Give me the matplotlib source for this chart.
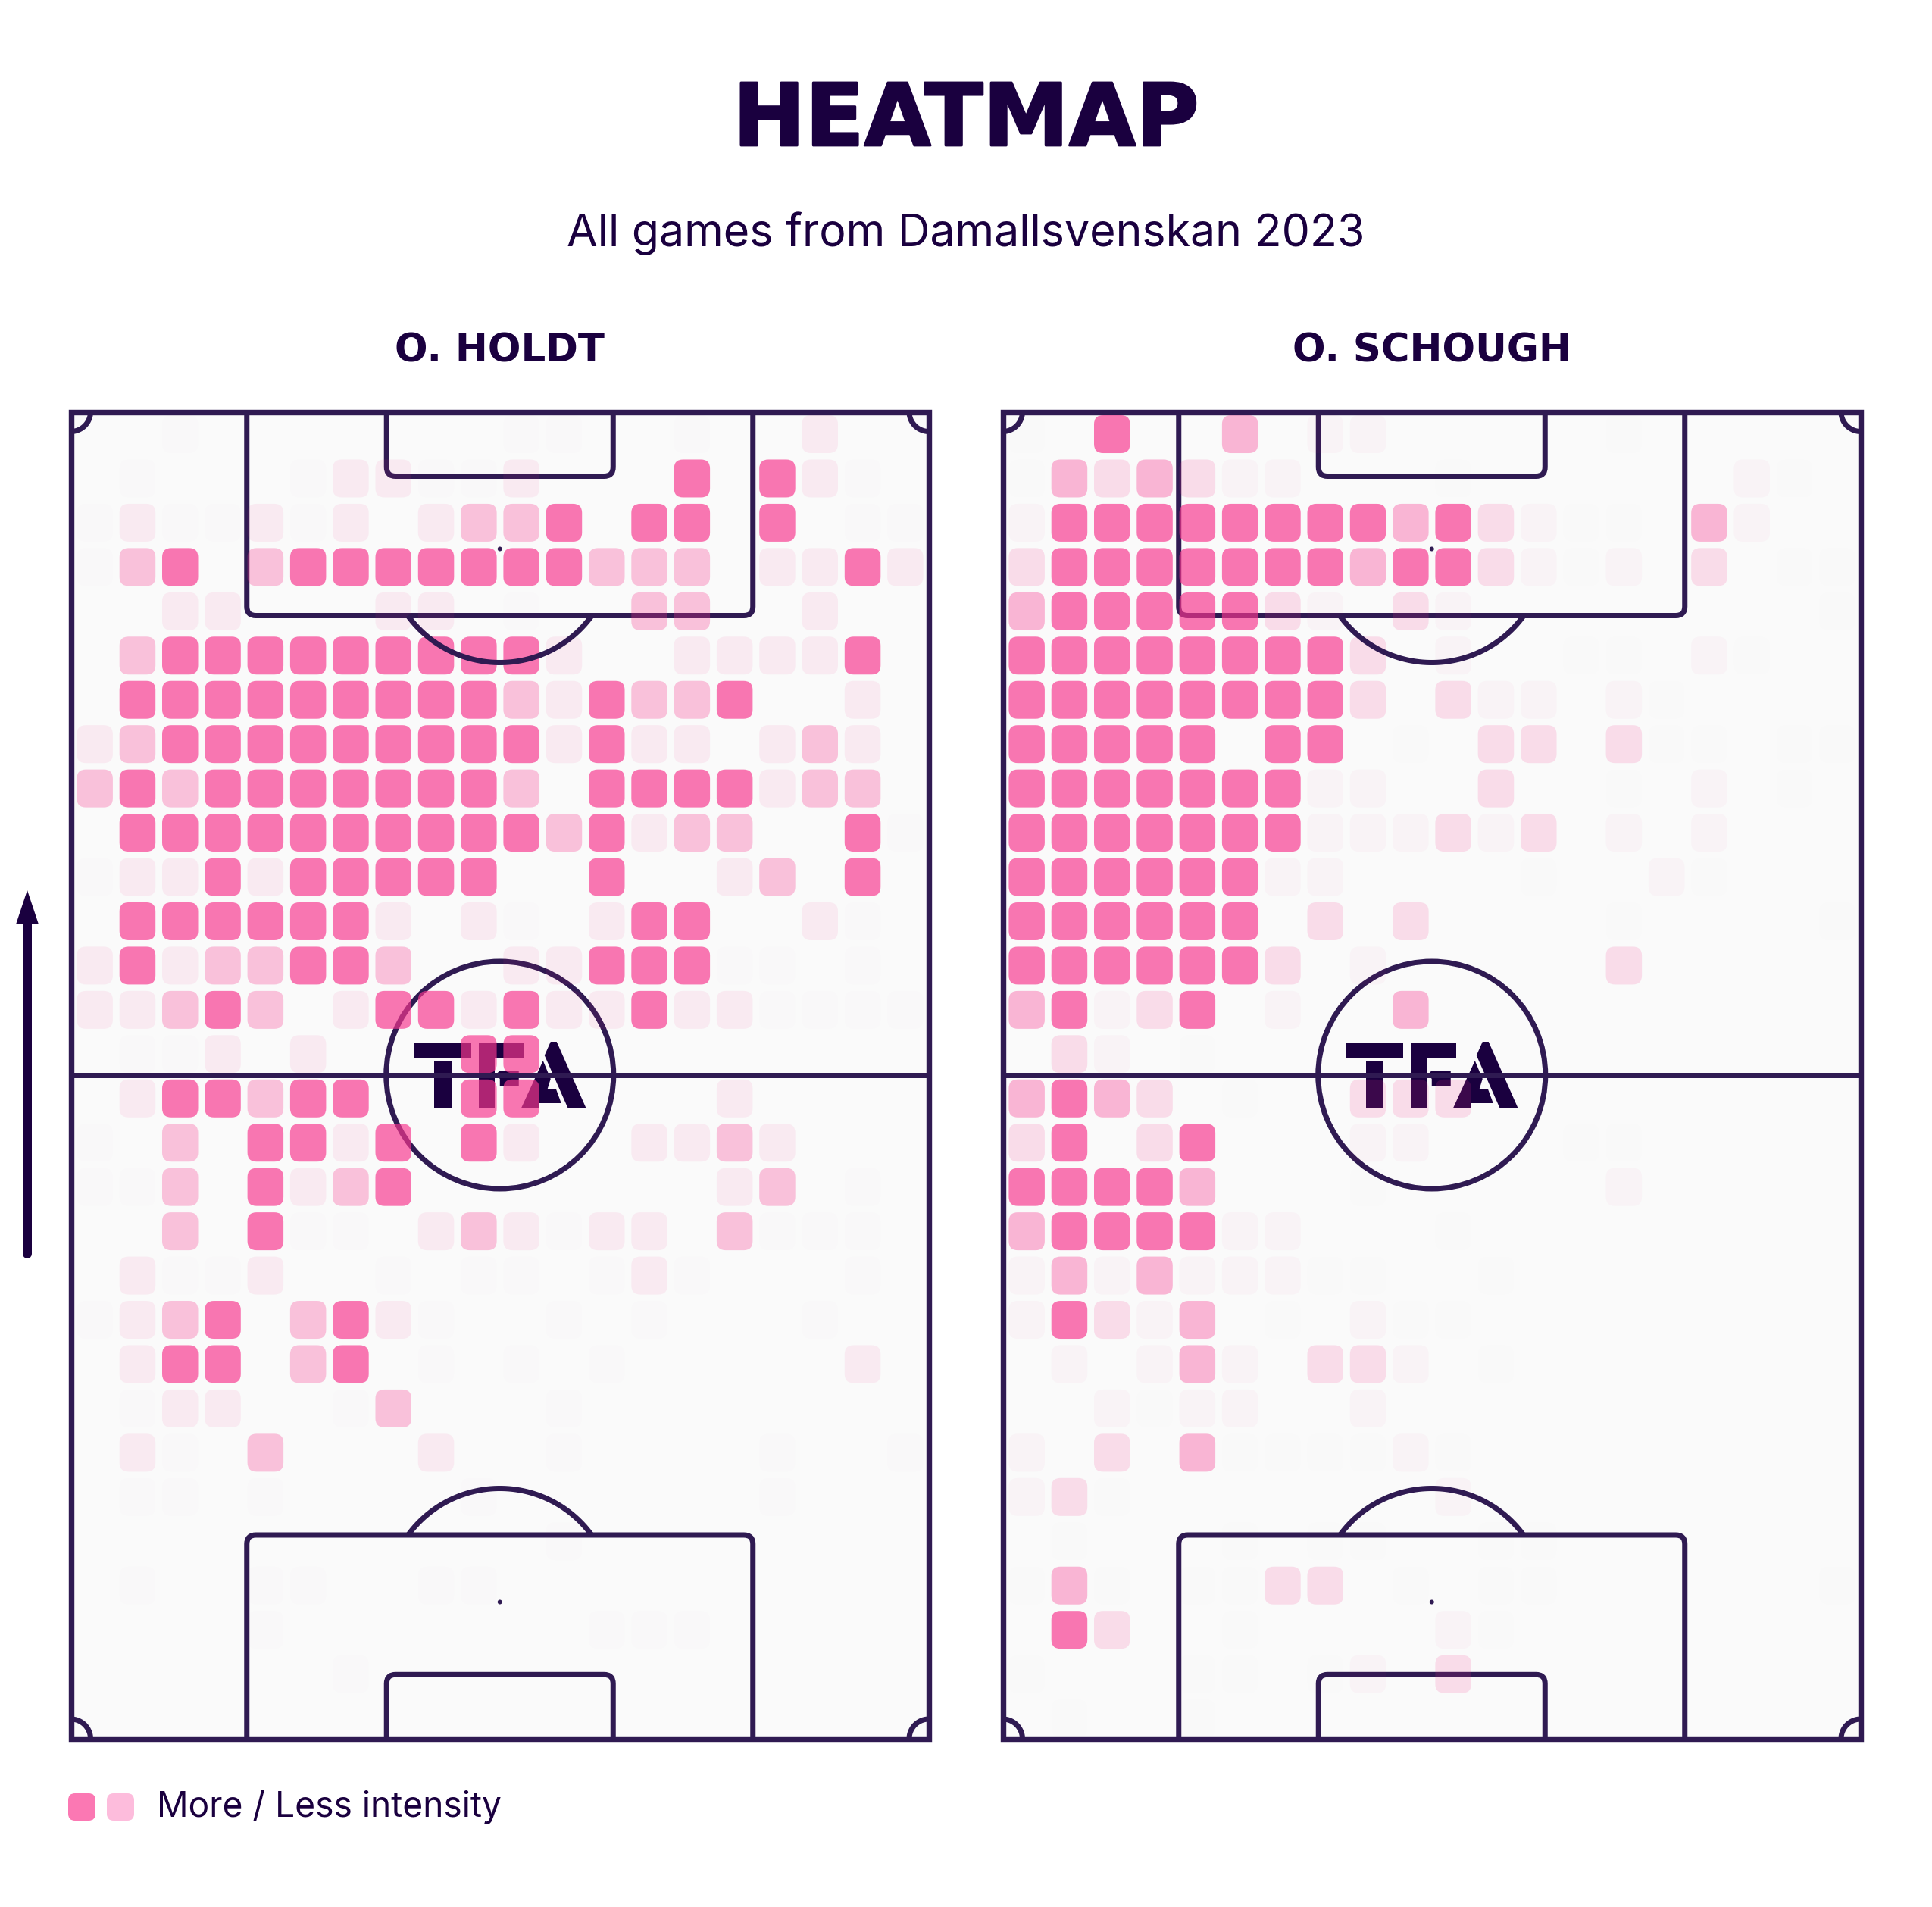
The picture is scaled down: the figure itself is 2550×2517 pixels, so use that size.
"""Side by side player heatmaps on a vertical pitch."""
import numpy as np
from matplotlib import patheffects as pe
from matplotlib import pyplot as plt
from matplotlib.patches import Circle, FancyBboxPatch, PathPatch, Polygon, Rectangle
from matplotlib.path import Path

WIDTH, HEIGHT = 2550, 2517
INK = "#1A003F"
LINE = "#2F1A52"
GRASS = "#FAFAFA"
HEAT = "#F8368E"

TITLE = "HEATMAP"
SUBTITLE = "All games from Damallsvenskan 2023"
PLAYERS = ["O. HOLDT", "O. SCHOUGH"]
LEGEND_LABEL = "More / Less intensity"
LEGEND_COLORS = ["#FB78B3", "#FDBCDC"]

# intensity codes per cell, top row first
HOLDT_ROWS = [
    "..,.......,,..,..1..",
    ".,...,11,,1...3.31,.",
    ",1,,1,1.1223.33.3.,,",
    ",23.23333333222.1131",
    "..11...11.,..22..1..",
    ".23333333331..11113.",
    ".333333333213223..1.",
    "123333333331311.121.",
    "2323333333" + "2.33331" + "22.",
    ".3333333333" + "2312" + "2..3,",
    ",113133333..3..12.3.",
    ".3333331.1,.133..1,.",
    "1312233" + "2..11333,,.,.",
    "1123" + "2.13313113" + "11,,,,",
    ".,,1.1...33.........",
    ".1332" + "33..33....1....",
    ",.2.331" + "3.31..1121...",
    ",,2.3123.......12.,.",
    "..2.3,,.121,11.2,,,.",
    ".1,,1..,.,,.,1,...,.",
    ",123.231,..,.,...,..",
    ".133.23.,.,.,.....1.",
    ".,11..,2...,........",
    ".1,.2...1..,....,..,",
    ".,,.,....,......,...",
    "...........,........",
    ".,..,,..,,..........",
    "....,.......,,,.....",
    "......,.............",
    "....................",
]
SCHOUGH_ROWS = [
    ",.4..3.11.....,.....",
    ",3232" + "11...,......1,.",
    "144444444" + "3421,,.31..",
    "24444444" + "3442" + "1,1.2.,,",
    "344444" + "21.21........,",
    "44444444" + "2.1..,,.1,..",
    "44444444" + "2.211.1,....",
    "44444.44.,.22.2,,.,,",
    "4444444" + "11..2..,.1.,.",
    "4444444" + "111212.1.1...",
    "444444" + "11....,..1,...",
    "444444.2.2....,....,",
    "4444442.1.....2.....",
    "34124.1..3..........",
    ".21.,...............",
    "3432.,..222.........",
    "24.24...11...,,.....",
    "44443...,.....1.....",
    "3444411...,.........",
    "1313111,,..,........",
    "14213.,.1,,.........",
    ".1.131.221.,........",
    "..1,11..1...........",
    "1.2.3,,,,1,.........",
    "12,.......1.........",
    ".,...,.,,..,,.......",
    ",3,.,,22.,.,,......,",
    ".42..,....1,........",
    ",...,,.,1.2.........",
    ".,..,...............",
]
# opacity of the heat colour for each code
HOLDT_LEVELS = {",": 0.006, "1": 0.08, "2": 0.29, "3": 0.67}
SCHOUGH_LEVELS = {",": 0.005, "1": 0.036, "2": 0.153, "3": 0.35, "4": 0.67}

# pixel geometry of one pitch
PITCH_W, PITCH_H = 1132.5, 1751.5
PITCH_TOP = 543.5
PITCH_LEFT = [93.5, 1323.5]
COL_STEP, ROW_STEP = 56.3, 58.45
CELL_W, CELL_H = 47.5, 50.0
LINE_PX = 7.0
# logo outlines in pixels around the centre spot
LOGO = [
    [(-114, -43), (-38, -43), (-38, -22), (-114, -22)],
    [(-87, -18), (-64, -18), (-64, 44), (-87, 44)],
    [(-28, -43), (32, -43), (32, -22), (-7, -22), (-7, -5), (-7, 44), (-28, 44)],
    [(0, -6), (-5, -1), (0, 5), (0, 14), (25, 14), (25, -6)],
    [(67, -44), (75, -44), (114, 44), (90, 44), (59, -26)],
    [(57, -19), (67, 5), (63, 18), (74, 18), (81, 37), (52, 37), (51, 44), (28, 44)],
]


def px(value):
    """Convert pixels to points at dpi 100."""
    return value * 0.72


def boxed_path(x0, x1, edge, tip, radius=12):
    """Open path of a goal area with its two far corners rounded."""
    sign = 1 if tip > edge else -1
    verts = [
        (x0, edge), (x0, tip - sign * radius), (x0, tip), (x0 + radius, tip),
        (x1 - radius, tip), (x1, tip), (x1, tip - sign * radius), (x1, edge),
    ]
    codes = [
        Path.MOVETO, Path.LINETO, Path.CURVE3, Path.CURVE3,
        Path.LINETO, Path.CURVE3, Path.CURVE3, Path.LINETO,
    ]
    return Path(verts, codes)


def draw_pitch(ax):
    """Draw the pitch markings and the logo."""
    style = {"color": LINE, "lw": px(LINE_PX), "solid_capstyle": "butt", "clip_on": False}
    patch_style = {"fill": False, "edgecolor": LINE, "lw": px(LINE_PX), "clip_on": False}
    mid_x, mid_y = PITCH_W / 2, 875.5
    ax.add_patch(Rectangle((0, 0), PITCH_W, PITCH_H, facecolor=GRASS, edgecolor=LINE, lw=px(7.4), clip_on=False))
    ax.plot([0, PITCH_W], [mid_y, mid_y], **style)
    ax.add_patch(Circle((mid_x, mid_y), 150, **patch_style))

    # penalty areas and six yard boxes
    for edge, box_tip, six_tip, spot_y, side in [(0, 269, 85, 181, 1), (PITCH_H, 1482.5, 1666.8, 1571, -1)]:
        ax.add_patch(PathPatch(boxed_path(mid_x - 334, mid_x + 334, edge, box_tip), **patch_style))
        ax.add_patch(PathPatch(boxed_path(mid_x - 149.5, mid_x + 149.5, edge, six_tip), **patch_style))
        ax.add_patch(Circle((mid_x, spot_y), 3, color=LINE, lw=0))
        half = np.arccos((box_tip - spot_y) * side / 150)
        theta = np.linspace(-half, half, 60)
        ax.plot(mid_x + 150 * np.sin(theta), spot_y + side * 150 * np.cos(theta), **style)

    # corner arcs
    for cx in (0, PITCH_W):
        for cy in (0, PITCH_H):
            theta = np.linspace(0, np.pi / 2, 30)
            dx = 26 * np.cos(theta) * (1 if cx == 0 else -1)
            dy = 26 * np.sin(theta) * (1 if cy == 0 else -1)
            ax.plot(cx + dx, cy + dy, **style)

    for shape in LOGO:
        ax.add_patch(Polygon([(mid_x + x, mid_y + y) for x, y in shape], facecolor=INK, edgecolor="none"))


def draw_heat(ax, rows, levels):
    """Draw one rounded cell per non empty grid position."""
    for row, codes in enumerate(rows):
        for col, code in enumerate(codes):
            if code not in levels:
                continue
            x = 3.5 + (col + 0.5) * COL_STEP - CELL_W / 2
            y = 0.3 + (row + 0.5) * ROW_STEP - CELL_H / 2
            ax.add_patch(
                FancyBboxPatch(
                    (x, y), CELL_W, CELL_H,
                    boxstyle="round,pad=0,rounding_size=12",
                    facecolor=HEAT, edgecolor="none", alpha=levels[code], clip_on=False,
                )
            )


def put_text(fig, x, y, text, **kwargs):
    """Place text by its baseline in figure pixels."""
    return fig.text(x / WIDTH, 1 - y / HEIGHT, text, color=INK, va="baseline", **kwargs)


fig = plt.figure(figsize=(WIDTH / 100, HEIGHT / 100), dpi=100, facecolor="white")

title = put_text(fig, 1275, 192, TITLE, ha="center", fontsize=82, family="DejaVu Sans", weight="bold")
title.set_path_effects([pe.withStroke(linewidth=2, foreground=INK)])
put_text(fig, 1275, 325, SUBTITLE, ha="center", fontsize=42.5, family="Inter")

for left, name, rows, levels in zip(PITCH_LEFT, PLAYERS, [HOLDT_ROWS, SCHOUGH_ROWS], [HOLDT_LEVELS, SCHOUGH_LEVELS]):
    ax = fig.add_axes([left / WIDTH, 1 - (PITCH_TOP + PITCH_H) / HEIGHT, PITCH_W / WIDTH, PITCH_H / HEIGHT])
    ax.set_xlim(0, PITCH_W)
    ax.set_ylim(PITCH_H, 0)
    ax.axis("off")
    draw_pitch(ax)
    draw_heat(ax, rows, levels)
    put_text(fig, left + PITCH_W / 2, 477, name, ha="center", fontsize=37, family="DejaVu Sans", weight="bold")

# overlay axes in figure pixels for the arrow and the legend
overlay = fig.add_axes([0, 0, 1, 1], zorder=5)
overlay.set_xlim(0, WIDTH)
overlay.set_ylim(HEIGHT, 0)
overlay.axis("off")
overlay.plot([36, 36], [1215, 1655], color=INK, lw=px(12), solid_capstyle="round")
overlay.add_patch(Polygon([(36, 1175), (51, 1220), (21, 1220)], facecolor=INK, edgecolor="none"))
for x, color in zip([90, 141], LEGEND_COLORS):
    overlay.add_patch(
        FancyBboxPatch((x, 2367), 36, 36, boxstyle="round,pad=0,rounding_size=9", facecolor=color, edgecolor="none")
    )
put_text(fig, 207, 2398, LEGEND_LABEL, ha="left", fontsize=33.2, family="Inter")

fig.savefig("out.png", dpi=100)
